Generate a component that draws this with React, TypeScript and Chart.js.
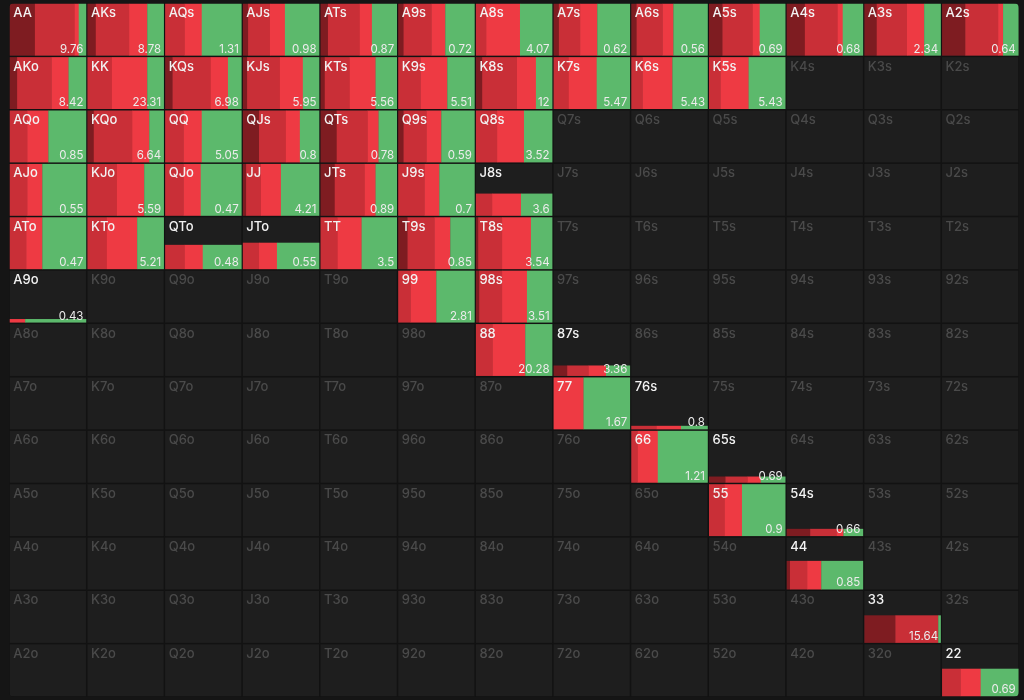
import React, { useEffect, useRef } from "react";
import { Chart, registerables } from "chart.js";

Chart.register(...registerables);

// Ranks of the 13x13 grid (row = first rank, column = second rank)
const RANKS = ["A", "K", "Q", "J", "T", "9", "8", "7", "6", "5", "4", "3", "2"];

// Hands that are in the range, with their fill height (share of cell height),
// the four action shares (darkest red, dark red, red, green) and the displayed value
const HANDS = [
  "AA", "AKs", "AQs", "AJs", "ATs", "A9s", "A8s", "A7s", "A6s", "A5s", "A4s", "A3s", "A2s",
  "AKo", "KK", "KQs", "KJs", "KTs", "K9s", "K8s", "K7s", "K6s", "K5s",
  "AQo", "KQo", "QQ", "QJs", "QTs", "Q9s", "Q8s",
  "AJo", "KJo", "QJo", "JJ", "JTs", "J9s", "J8s",
  "ATo", "KTo", "QTo", "JTo", "TT", "T9s", "T8s",
  "A9o", "99", "98s",
  "88", "87s",
  "77", "76s",
  "66", "65s",
  "55", "54s",
  "44",
  "33",
  "22",
];

const FILL = [
  1, 1, 1, 1, 1, 1, 1, 1, 1, 1, 1, 1, 1,
  1, 1, 1, 1, 1, 1, 1, 1, 1, 1,
  1, 1, 1, 1, 1, 1, 1,
  1, 1, 1, 1, 1, 1, 0.43,
  1, 1, 0.47, 0.51, 1, 1, 1,
  0.08, 1, 1,
  1, 0.21,
  1, 0.08,
  1, 0.13,
  1, 0.15,
  0.55,
  0.53,
  0.53,
];

const DARKEST = [
  26, 9, 0, 6, 8, 6, 0, 6, 6, 14, 19, 13, 24,
  8, 0, 8, 5, 5, 0, 7, 0, 0, 0,
  0, 7, 0, 17, 17, 6, 0,
  0, 0, 0, 4, 15, 0, 0,
  0, 0, 0, 0, 0, 10, 3,
  0, 0, 4,
  0, 14,
  0, 0,
  0, 17,
  0, 24,
  4,
  31,
  0,
];

const DARK = [
  40, 33, 20, 22, 31, 28, 11, 21, 26, 30, 33, 30, 33,
  34, 25, 38, 33, 25, 23, 35, 16, 12, 12,
  18, 38, 19, 27, 31, 23, 22,
  18, 30, 19, 15, 30, 27, 17,
  17, 20, 20, 17, 18, 27, 24,
  0, 13, 23,
  17, 21,
  0, 26,
  7, 22,
  16, 26,
  17,
  42,
  19,
];

const RED = [
  4, 18, 17, 15, 12, 14, 34, 17, 11, 7, 5, 17, 5,
  17, 35, 17, 23, 26, 27, 19, 28, 30, 28,
  21, 17, 18, 14, 11, 15, 27,
  15, 27, 17, 20, 11, 15, 29,
  16, 30, 18, 18, 24, 16, 29,
  16, 26, 25,
  32, 17,
  30, 24,
  20, 13,
  17, 7,
  14,
  0,
  20,
];

const GREEN = [
  8, 17, 40, 35, 25, 30, 33, 33, 35, 26, 21, 17, 16,
  18, 17, 14, 17, 22, 28, 17, 34, 36, 37,
  38, 15, 40, 20, 19, 34, 29,
  44, 20, 41, 39, 22, 36, 32,
  44, 27, 39, 43, 36, 25, 22,
  61, 39, 26,
  27, 24,
  46, 27,
  50, 25,
  43, 20,
  42,
  3,
  38,
];

const VALUES = [
  "9.76", "8.78", "1.31", "0.98", "0.87", "0.72", "4.07", "0.62", "0.56", "0.69", "0.68", "2.34", "0.64",
  "8.42", "23.31", "6.98", "5.95", "5.56", "5.51", "12", "5.47", "5.43", "5.43",
  "0.85", "6.64", "5.05", "0.8", "0.78", "0.59", "3.52",
  "0.55", "5.59", "0.47", "4.21", "0.89", "0.7", "3.6",
  "0.47", "5.21", "0.48", "0.55", "3.5", "0.85", "3.54",
  "0.43", "2.81", "3.51",
  "20.28", "3.36",
  "1.67", "0.8",
  "1.21", "0.69",
  "0.9", "0.66",
  "0.85",
  "15.64",
  "0.69",
];

const SEG_COLORS = ["#7e1c21", "#c92f37", "#ee3a43", "#5cb96c"];
const PAGE_BG = "#151515";
const GAP_COLOR = "#121212";
const CELL_BG = "#1e1e1e";
const FONT = "Inter, 'Noto Sans', sans-serif";

function handName(r: number, c: number): string {
  if (r === c) return RANKS[r] + RANKS[c];
  if (c > r) return RANKS[r] + RANKS[c] + "s";
  return RANKS[c] + RANKS[r] + "o";
}

const gridPlugin = {
  id: "rangeGrid",
  beforeDatasetsDraw(chart: any) {
    const { ctx, chartArea, scales } = chart;
    const xs = scales.x;
    const ys = scales.y;
    ctx.save();
    ctx.fillStyle = GAP_COLOR;
    ctx.beginPath();
    if (ctx.roundRect) {
      ctx.roundRect(chartArea.left, chartArea.top, chartArea.right - chartArea.left, chartArea.bottom - chartArea.top, 5);
    } else {
      ctx.rect(chartArea.left, chartArea.top, chartArea.right - chartArea.left, chartArea.bottom - chartArea.top);
    }
    ctx.fill();
    ctx.clip();

    const inset = 0.75;
    for (let r = 0; r < 13; r++) {
      for (let c = 0; c < 13; c++) {
        const name = handName(r, c);
        const idx = HANDS.indexOf(name);
        const left = xs.getPixelForValue(c) + inset;
        const right = xs.getPixelForValue(c + 1) - inset;
        const top = ys.getPixelForValue(r) + inset;
        const bottom = ys.getPixelForValue(r + 1) - inset;
        ctx.fillStyle = CELL_BG;
        ctx.fillRect(left, top, right - left, bottom - top);

        if (idx >= 0) {
          const segs = [DARKEST[idx], DARK[idx], RED[idx], GREEN[idx]];
          const total = segs.reduce((a, b) => a + b, 0);
          const barTop = ys.getPixelForValue(r + 1 - FILL[idx]) + (FILL[idx] >= 1 ? inset : 0);
          let cum = 0;
          segs.forEach((s, k) => {
            if (s <= 0) return;
            const x0 = xs.getPixelForValue(c + cum / total);
            cum += s;
            const x1 = xs.getPixelForValue(c + cum / total);
            const a = Math.max(x0, left);
            const b = Math.min(x1, right);
            ctx.fillStyle = SEG_COLORS[k];
            ctx.fillRect(a, barTop, b - a + 0.3, bottom - barTop);
          });
        }

        // label
        ctx.font = `500 13px ${FONT}`;
        ctx.textAlign = "left";
        ctx.textBaseline = "alphabetic";
        ctx.fillStyle = idx >= 0 ? "#f2f2f2" : "#4a4a4a";
        ctx.fillText(name, left + 3.5, top + 13.5);

        if (idx >= 0) {
          ctx.font = `400 11.5px ${FONT}`;
          ctx.textAlign = "right";
          ctx.fillStyle = "#ececec";
          ctx.fillText(VALUES[idx], right - 2.5, bottom - 3);
        }
      }
    }
    ctx.restore();
  },
};

export default function App() {
  const ref = useRef<HTMLCanvasElement | null>(null);

  useEffect(() => {
    const prevMargin = document.body.style.margin;
    const prevBg = document.body.style.background;
    document.body.style.margin = "0";
    document.body.style.background = PAGE_BG;
    if (!ref.current) return;
    const points = HANDS.map((h) => {
      let r = -1;
      let c = -1;
      for (let i = 0; i < 13; i++) for (let j = 0; j < 13; j++) if (handName(i, j) === h) { r = i; c = j; }
      return { x: c + 0.5, y: r + 0.5 };
    });
    const chart = new Chart(ref.current, {
      type: "scatter",
      data: {
        datasets: [
          {
            label: "Range",
            data: points,
            pointRadius: 0,
            pointHoverRadius: 0,
          },
        ],
      },
      options: {
        animation: false,
        responsive: false,
        layout: { padding: { left: 9, top: 3, right: 5, bottom: 3 } },
        plugins: { legend: { display: false }, tooltip: { enabled: false } },
        events: [],
        scales: {
          x: { type: "linear", min: 0, max: 13, display: false },
          y: { type: "linear", min: 0, max: 13, reverse: true, display: false },
        },
      },
      plugins: [gridPlugin],
    });
    return () => {
      chart.destroy();
      document.body.style.margin = prevMargin;
      document.body.style.background = prevBg;
    };
  }, []);

  return (
    <div style={{ width: 1024, height: 700, background: PAGE_BG }}>
      <canvas ref={ref} width={1024} height={700} style={{ display: "block", width: 1024, height: 700 }} />
    </div>
  );
}
